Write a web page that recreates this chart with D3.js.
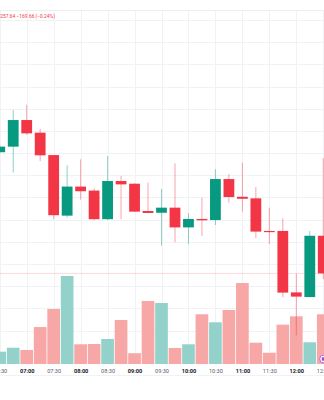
<!DOCTYPE html>
<html>
<head>
<meta charset="utf-8">
<script src="https://cdn.jsdelivr.net/npm/d3@7/dist/d3.min.js"></script>
<style>
  html, body { margin: 0; padding: 0; background: #ffffff; }
  svg { display: block; }
  text { font-family: Roboto, "Liberation Sans", sans-serif; }
</style>
</head>
<body>
<svg id="chart" width="324" height="400"></svg>
<script>
// 15-minute bars
const times   = ["06:30","06:45","07:00","07:15","07:30","07:45","08:00","08:15","08:30","08:45",
                 "09:00","09:15","09:30","09:45","10:00","10:15","10:30","10:45","11:00","11:15",
                 "11:30","11:45","12:00","12:15","12:30"];
const opens   = [70804,70829,70949,70892,70791,70518,70649,70631,70502,70674,
                 70662,70539,70531,70554,70465,70503,70498,70683,70603,70596,
                 70449,70449,70172,70151,70427.30];
const highs   = [70835,70994,71018,70909,70791,70745,70772,70641,70787,70697,
                 70664,70667,70638,70754,70529,70599,70727,70706,70757,70647,
                 70554,70506,70255,70449,70777];
const lows    = [70798,70712,70882,70764,70502,70509,70590,70498,70498,70502,
                 70534,70529,70383,70398,70390,70426,70476,70576,70536,70416,
                 70390,70150,69977,70150,70232];
const closes  = [70829,70949,70889,70790,70520,70649,70628,70502,70674,70659,
                 70536,70530,70554,70465,70503,70497,70683,70602,70594,70446,
                 70448,70171,70153,70427.30,70257.64];
const volumes = [140,185,159,420,625,1000,224,227,284,500,
                 122,716,693,182,224,565,474,614,920,242,
                 128,447,542,247,565];
const priceTicks = [69900,70000,70100,70200,70300,70400,70500,70600,70700,70800,70900,71000,71100,71200,71300,71400];

const UP = "#089981", DOWN = "#f23645";
const UP_VOL = "#93d2ca", DOWN_VOL = "#f6a7a6";

const parse = d3.timeParse("%Y-%m-%d %H:%M");
const bars = times.map((t, i) => ({
  t: parse("2024-05-20 " + t),
  o: opens[i], h: highs[i], l: lows[i], c: closes[i], v: volumes[i]
}));

const svg = d3.select("#chart");
const paneTop = 10, paneBottom = 364;

const x = d3.scaleTime()
  .domain([bars[0].t, bars[bars.length - 1].t])
  .range([-0.26, 323.26]);
const step = x(bars[1].t) - x(bars[0].t);

const y = d3.scaleLinear().domain([70300, 71400]).range([264, 20]);
const yVol = d3.scaleLinear().domain([0, 1000]).range([paneBottom, 276]);

// grid
const gridColor = "#f0f2f6";
const halfHours = d3.timeMinute.every(30).range(bars[0].t, d3.timeMinute.offset(bars[bars.length - 1].t, 1));
svg.append("g").selectAll("line").data(halfHours).join("line")
  .attr("x1", d => Math.round(x(d)) + 0.5).attr("x2", d => Math.round(x(d)) + 0.5)
  .attr("y1", paneTop).attr("y2", paneBottom)
  .attr("stroke", gridColor).attr("stroke-width", 1);
svg.append("g").selectAll("line").data(priceTicks.filter(p => y(p) > paneTop && y(p) < paneBottom)).join("line")
  .attr("x1", 0).attr("x2", 324)
  .attr("y1", d => Math.round(y(d)) + 0.5).attr("y2", d => Math.round(y(d)) + 0.5)
  .attr("stroke", gridColor).attr("stroke-width", 1);

// pane borders
svg.append("line").attr("x1", 0).attr("x2", 324).attr("y1", paneTop + 0.5).attr("y2", paneTop + 0.5)
  .attr("stroke", "#eceef2");
svg.append("line").attr("x1", 0).attr("x2", 324).attr("y1", 375.5).attr("y2", 375.5)
  .attr("stroke", "#f0f2f6");

// volume
svg.append("g").selectAll("rect").data(bars).join("rect")
  .attr("x", d => x(d.t) - step / 2 + 0.4)
  .attr("width", step - 0.8)
  .attr("y", d => yVol(d.v))
  .attr("height", d => paneBottom - yVol(d.v))
  .attr("fill", d => d.c >= d.o ? UP_VOL : DOWN_VOL);

// last price line
const last = bars[bars.length - 1];
svg.append("line").attr("x1", 0).attr("x2", 324)
  .attr("y1", y(last.c)).attr("y2", y(last.c))
  .attr("stroke", DOWN).attr("stroke-opacity", 0.18).attr("stroke-width", 1);

// candles
const bodyW = step * 0.8;
const candles = svg.append("g").selectAll("g").data(bars).join("g");
candles.append("line")
  .attr("x1", d => x(d.t)).attr("x2", d => x(d.t))
  .attr("y1", d => y(d.h)).attr("y2", d => y(d.l))
  .attr("stroke", d => d.c >= d.o ? UP : DOWN)
  .attr("stroke-opacity", 0.45).attr("stroke-width", 1);
candles.append("rect")
  .attr("x", d => x(d.t) - bodyW / 2)
  .attr("width", bodyW)
  .attr("y", d => y(Math.max(d.o, d.c)))
  .attr("height", d => Math.max(1.2, Math.abs(y(d.o) - y(d.c))))
  .attr("fill", d => d.c >= d.o ? UP : DOWN);

// event marker
svg.append("circle").attr("cx", 323.5).attr("cy", 359).attr("r", 3.8)
  .attr("fill", "#ffffff").attr("stroke", "#b56ad6").attr("stroke-width", 1);
svg.append("rect").attr("x", 321.8).attr("y", 357.3).attr("width", 3.4).attr("height", 3.4)
  .attr("fill", "#9b4dc9");

// time axis
const xAxis = d3.axisBottom(x)
  .tickValues(halfHours)
  .tickSize(0)
  .tickFormat(d3.timeFormat("%H:%M"));
const gx = svg.append("g").attr("transform", `translate(0,${366.5})`).call(xAxis);
gx.select(".domain").remove();
gx.selectAll("text")
  .attr("font-family", "Roboto, 'Liberation Sans', sans-serif")
  .attr("font-size", 5.6)
  .attr("font-weight", d => d.getMinutes() === 0 ? 700 : 400)
  .attr("fill", d => d.getMinutes() === 0 ? "#131722" : "#5d606b");

// legend: close and change vs previous close
const prev = bars[bars.length - 2];
const chg = last.c - prev.c;
const pct = chg / prev.c * 100;
const sgn = v => (v < 0 ? "\u2212" : "+");
const legendStr = `C${d3.format(".2f")(last.c)} ${sgn(chg)}${d3.format(".2f")(Math.abs(chg))} (${sgn(pct)}${d3.format(".2f")(Math.abs(pct))}%)`;
const legend = svg.append("text")
  .attr("y", 18.4)
  .attr("font-size", 4.9)
  .attr("fill", DOWN)
  .text(legendStr);
// scroll the leading part of the legend out of view
legend.attr("x", -legend.node().getSubStringLength(0, 3) + 0.3);
</script>
</body>
</html>
